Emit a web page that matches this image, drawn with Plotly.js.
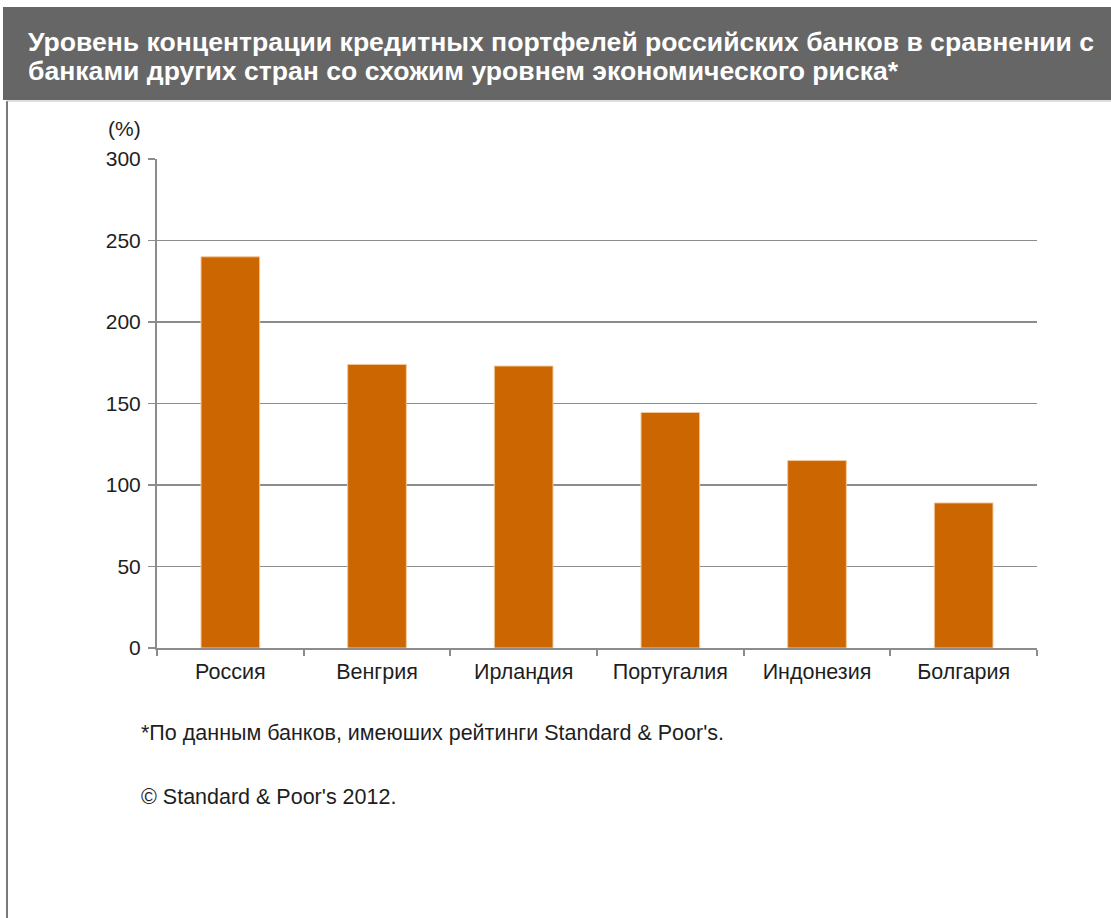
<!DOCTYPE html>
<html>
<head>
<meta charset="utf-8">
<script src="https://cdn.plot.ly/plotly-3.0.1.min.js"></script>
<style>
  html, body { margin: 0; padding: 0; background: #ffffff; }
  #chart { width: 1111px; height: 918px; }
</style>
</head>
<body>
<div id="chart"></div>
<script>
// ---- data ----
const categories = ["Россия", "Венгрия", "Ирландия", "Португалия", "Индонезия", "Болгария"];
const values = [240, 174, 173, 144.5, 115, 89];
const yTickValues = [0, 50, 100, 150, 200, 250, 300];
const yTickLabels = ["0", "50", "100", "150", "200", "250", "300"];
const titleLine1 = "Уровень концентрации кредитных портфелей российских банков в сравнении с";
const titleLine2 = "банками других стран со схожим уровнем экономического риска*";
const unitLabel = "(%)";
const footnote = "*По данным банков, имеюших рейтинги Standard &amp; Poor's.";
const copyright = "© Standard &amp; Poor's 2012.";

// ---- layout geometry (pixels) ----
const W = 1111, H = 918;
const M = { l: 157, r: 74, t: 159, b: 270 };
const PW = W - M.l - M.r, PH = H - M.t - M.b;
const px = x => (x - M.l) / PW;
const py = y => (H - M.b - y) / PH;

const FONT = "Liberation Sans, Arial, sans-serif";
const axisGray = "#8c8c8c";
const textColor = "#1e1e1e";

const trace = {
  type: "bar",
  x: categories,
  y: values,
  marker: { color: "#cc6600", line: { color: "#f3c89c", width: 1 } },
  hoverinfo: "x+y"
};

const layout = {
  width: W, height: H,
  margin: M,
  paper_bgcolor: "#ffffff",
  plot_bgcolor: "#ffffff",
  showlegend: false,
  bargap: 0.6,
  font: { family: FONT, size: 21, color: textColor },
  xaxis: {
    type: "category",
    showline: true, linecolor: axisGray, linewidth: 2,
    ticks: "outside", ticklen: 6, tickcolor: axisGray, tickwidth: 2,
    tickson: "boundaries",
    showgrid: false,
    tickfont: { family: FONT, size: 21.5, color: textColor },
    ticklabelstandoff: 3,
    fixedrange: true
  },
  yaxis: {
    range: [0, 300],
    tickvals: yTickValues, ticktext: yTickLabels,
    showline: true, linecolor: axisGray, linewidth: 2,
    ticks: "outside", ticklen: 7, tickcolor: axisGray, tickwidth: 1.5,
    showgrid: true, gridcolor: axisGray, gridwidth: 1.5,
    zeroline: false,
    tickfont: { family: FONT, size: 21, color: textColor },
    ticklabelstandoff: 3,
    fixedrange: true
  },
  shapes: [
    { type: "rect", xref: "paper", yref: "paper",
      x0: px(3), x1: px(W + 5), y0: py(100), y1: py(7),
      fillcolor: "#666666", line: { width: 0 }, layer: "below" },
    { type: "line", xref: "paper", yref: "paper",
      x0: px(7), x1: px(7), y0: py(101), y1: py(H + 5),
      line: { color: "#7a7a7a", width: 2 } },
    { type: "line", xref: "paper", yref: "paper",
      x0: px(7), x1: px(W + 5), y0: py(101), y1: py(101),
      line: { color: "#bdbdbd", width: 1 } }
  ],
  annotations: [
    { xref: "paper", yref: "paper", x: px(26), y: py(42), xanchor: "left", yanchor: "middle",
      text: "<b>" + titleLine1 + "</b>", showarrow: false,
      font: { family: FONT, size: 26.6, color: "#ffffff" } },
    { xref: "paper", yref: "paper", x: px(26), y: py(71), xanchor: "left", yanchor: "middle",
      text: "<b>" + titleLine2 + "</b>", showarrow: false,
      font: { family: FONT, size: 26.6, color: "#ffffff" } },
    { xref: "paper", yref: "paper", x: px(124), y: py(128), xanchor: "center", yanchor: "middle",
      text: unitLabel, showarrow: false,
      font: { family: FONT, size: 21, color: textColor } },
    { xref: "paper", yref: "paper", x: px(139), y: py(733), xanchor: "left", yanchor: "middle",
      text: footnote, showarrow: false,
      font: { family: FONT, size: 21.5, color: textColor } },
    { xref: "paper", yref: "paper", x: px(139), y: py(797), xanchor: "left", yanchor: "middle",
      text: copyright, showarrow: false,
      font: { family: FONT, size: 21.5, color: textColor } }
  ]
};

Plotly.newPlot("chart", [trace], layout, { displayModeBar: false, staticPlot: true });
</script>
</body>
</html>
